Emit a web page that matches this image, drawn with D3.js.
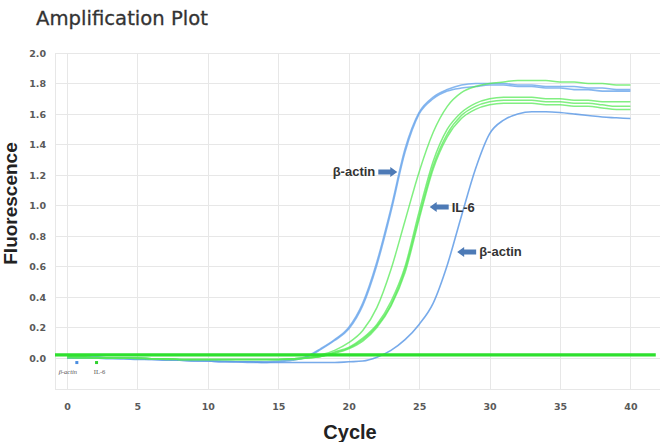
<!DOCTYPE html>
<html>
<head>
<meta charset="utf-8">
<style>
  body { margin: 0; background: #fff; }
</style>
</head>
<body>
<script src="https://cdn.jsdelivr.net/npm/d3@7"></script>

<div id="container1"></div>

<script>

// cycles 0..40
const cycles = d3.range(0, 41);

// early beta-actin replicates
const actinEarlyA = [0.01,0.01,0.01,0.0,0.0,0.0,-0.005,-0.01,-0.01,-0.015,-0.02,-0.02,-0.025,-0.025,-0.025,-0.02,-0.01,0.01,0.06,0.12,0.20,0.36,0.63,0.98,1.37,1.61,1.71,1.76,1.79,1.80,1.80,1.80,1.79,1.79,1.78,1.78,1.78,1.77,1.77,1.76,1.76];
const actinEarlyB = [0.0,0.0,0.0,0.0,-0.005,-0.005,-0.01,-0.01,-0.015,-0.02,-0.02,-0.025,-0.025,-0.03,-0.03,-0.025,-0.015,0.005,0.055,0.115,0.19,0.345,0.61,0.96,1.35,1.60,1.70,1.75,1.77,1.78,1.79,1.79,1.78,1.78,1.77,1.77,1.76,1.76,1.75,1.75,1.75];
// late beta-actin
const actinLate = [0.0,0.0,0.0,-0.005,-0.005,-0.01,-0.01,-0.015,-0.015,-0.02,-0.02,-0.025,-0.025,-0.025,-0.03,-0.03,-0.03,-0.03,-0.03,-0.03,-0.025,-0.02,0.005,0.05,0.12,0.22,0.36,0.61,0.93,1.24,1.47,1.56,1.60,1.615,1.615,1.61,1.60,1.59,1.58,1.575,1.57];
// IL-6 replicates
const il6A = [0.01,0.01,0.0,0.0,0.0,-0.005,-0.005,-0.01,-0.01,-0.01,-0.01,-0.01,-0.01,-0.01,-0.01,-0.01,-0.01,0.0,0.02,0.05,0.10,0.18,0.33,0.58,0.90,1.22,1.48,1.65,1.74,1.78,1.80,1.81,1.82,1.82,1.82,1.81,1.81,1.80,1.80,1.79,1.79];
const il6B = [0.01,0.01,0.0,0.0,0.0,0.0,-0.005,-0.005,-0.01,-0.01,-0.01,-0.01,-0.01,-0.01,-0.01,-0.01,-0.005,0.0,0.01,0.04,0.07,0.13,0.22,0.37,0.60,0.96,1.29,1.50,1.61,1.67,1.70,1.71,1.71,1.71,1.70,1.70,1.69,1.69,1.68,1.68,1.68];
const il6C = [0.01,0.0,0.0,0.0,0.0,0.0,-0.005,-0.005,-0.01,-0.01,-0.01,-0.01,-0.01,-0.01,-0.01,-0.01,-0.005,0.0,0.01,0.035,0.065,0.12,0.21,0.35,0.58,0.93,1.26,1.47,1.59,1.65,1.68,1.69,1.69,1.69,1.68,1.68,1.67,1.67,1.66,1.65,1.65];
const il6D = [0.0,0.0,0.0,0.0,0.0,0.0,-0.005,-0.005,-0.01,-0.01,-0.01,-0.01,-0.01,-0.01,-0.01,-0.01,-0.005,0.0,0.01,0.03,0.06,0.11,0.20,0.34,0.56,0.91,1.24,1.45,1.57,1.63,1.66,1.67,1.67,1.67,1.66,1.66,1.65,1.65,1.64,1.63,1.63];

const actinSeries = [actinEarlyA, actinEarlyB, actinLate];
const il6Series = [il6A, il6B, il6C, il6D];
const threshold = 0.02;

const xTicks = [0,5,10,15,20,25,30,35,40];
const yTicks = [0,0.2,0.4,0.6,0.8,1.0,1.2,1.4,1.6,1.8,2.0];

// small legend near the baseline
const legendNames = ["β-actin", "IL-6"];
const legendCycles = [0.7, 2.1];

// arrow annotations
const noteTexts = ["β-actin", "IL-6", "β-actin"];
const noteCycles = [23.45, 25.75, 27.7];
const noteValues = [1.22, 0.99, 0.695];
const noteDirs = ["right", "left", "left"];

const blue = "#72aaec", green = "#55ea55";

const width = 662, height = 442;
const svg = d3.select("#container1")
  .append("svg")
    .attr("width", width)
    .attr("height", height);

const x = d3.scaleLinear().domain([-0.85, 42.1]).range([55, 660]);
const y = d3.scaleLinear().domain([-0.21, 2.0]).range([390, 53]);

svg.append("defs").append("filter").attr("id", "soft")
  .append("feGaussianBlur").attr("stdDeviation", 0.45);

// grid
const grid = svg.append("g").attr("stroke", "#e7e7e7").attr("stroke-width", 1);
grid.selectAll(".vx").data(xTicks).join("line")
  .attr("x1", d => Math.round(x(d)) + 0.5).attr("x2", d => Math.round(x(d)) + 0.5)
  .attr("y1", y(2.0)).attr("y2", y(-0.21));
grid.selectAll(".hy").data(yTicks).join("line")
  .attr("x1", x(-0.85)).attr("x2", x(42.1))
  .attr("y1", d => Math.round(y(d)) + 0.5).attr("y2", d => Math.round(y(d)) + 0.5);
grid.append("line").attr("x1", x(-0.85) + 0.5).attr("x2", x(-0.85) + 0.5).attr("y1", y(2.0)).attr("y2", y(-0.21));
grid.append("line").attr("x1", x(-0.85)).attr("x2", x(42.1)).attr("y1", y(-0.21) - 0.5).attr("y2", y(-0.21) - 0.5);

// axes
const yAxis = svg.append("g")
    .attr("transform", `translate(${x(-0.85) - 6},0)`)
    .call(d3.axisLeft(y).tickValues(yTicks).tickFormat(d3.format(".1f")).tickSize(0));
const xAxis = svg.append("g")
    .attr("transform", `translate(0,${y(-0.21) + 10})`)
    .call(d3.axisBottom(x).tickValues(xTicks).tickFormat(d3.format("d")).tickSize(0));
[xAxis, yAxis].forEach(a => {
  a.select(".domain").remove();
  a.selectAll("text")
    .style("font-family", "DejaVu Sans")
    .style("font-weight", "bold")
    .style("font-size", "9.5px")
    .attr("fill", "#5a5a5a");
});

// curves
const line = d3.line()
    .x((d, i) => x(cycles[i]))
    .y(d => y(d))
    .curve(d3.curveMonotoneX);

const curves = svg.append("g").attr("fill", "none").attr("filter", "url(#soft)");
curves.selectAll(".actin").data(actinSeries).join("path")
    .attr("d", line)
    .attr("stroke", (d, i) => i === 2 ? "#5f9be6" : blue)
    .attr("stroke-width", 1.6)
    .attr("opacity", 0.85);
curves.selectAll(".il6").data(il6Series).join("path")
    .attr("d", line)
    .attr("stroke", green)
    .attr("stroke-width", 1.5)
    .attr("opacity", 0.75);

// threshold
curves.append("line")
    .attr("x1", x(-0.85)).attr("x2", x(41.8))
    .attr("y1", y(threshold)).attr("y2", y(threshold))
    .attr("stroke", "#2ee02e").attr("stroke-width", 3.2);

// tiny legend
svg.selectAll(".legmark").data(legendCycles).join("rect")
    .attr("x", d => x(d) - 1.5).attr("y", y(-0.03) - 1.5)
    .attr("width", 3).attr("height", 3)
    .attr("fill", (d, i) => i === 0 ? "#4a8de0" : "#2ed02e");
svg.selectAll(".legtext").data(legendNames).join("text")
    .attr("x", (d, i) => x(legendCycles[i]) + (i === 0 ? -9 : 3))
    .attr("y", y(-0.105))
    .attr("text-anchor", "middle")
    .style("font-family", "Liberation Serif")
    .style("font-style", (d, i) => i === 0 ? "italic" : "normal")
    .style("font-size", "6.5px")
    .attr("fill", "#555")
    .text(d => d);

// arrow annotations
function arrowPath(tx, ty, dir) {
  const len = 19, head = 7, bh = 2.5, hh = 5;
  const s = dir === "right" ? -1 : 1;
  const pts = [
    [tx, ty], [tx + s * head, ty - hh], [tx + s * head, ty - bh],
    [tx + s * len, ty - bh], [tx + s * len, ty + bh], [tx + s * head, ty + bh],
    [tx + s * head, ty + hh]
  ];
  return "M" + pts.map(p => p.join(",")).join("L") + "Z";
}
const notes = svg.append("g");
noteTexts.forEach((t, i) => {
  const tx = x(noteCycles[i]), ty = y(noteValues[i]);
  notes.append("path").attr("d", arrowPath(tx, ty, noteDirs[i])).attr("fill", "#4d7ab6");
  notes.append("text")
    .attr("x", noteDirs[i] === "right" ? tx - 22 : tx + 22)
    .attr("y", ty + 4.5)
    .attr("text-anchor", noteDirs[i] === "right" ? "end" : "start")
    .style("font-family", "Liberation Sans")
    .style("font-weight", "bold")
    .style("font-size", "13px")
    .attr("fill", "#333")
    .text(t);
});

// titles
svg.append("text").attr("x", 36).attr("y", 25)
    .attr("textLength", 172).attr("lengthAdjust", "spacingAndGlyphs")
    .style("font-family", "DejaVu Sans").style("font-size", "20px")
    .attr("fill", "#333")
    .attr("stroke", "#333").attr("stroke-width", 0.3)
    .text("Amplification Plot");
svg.append("text")
    .attr("transform", `translate(17,${(y(2.0) + y(-0.21)) / 2 - 18}) rotate(-90)`)
    .attr("text-anchor", "middle")
    .style("font-family", "Liberation Sans").style("font-weight", "bold").style("font-size", "19px")
    .attr("fill", "#222")
    .text("Fluorescence");
svg.append("text").attr("x", 350).attr("y", 439)
    .attr("text-anchor", "middle")
    .style("font-family", "Liberation Sans").style("font-weight", "bold").style("font-size", "20px")
    .attr("fill", "#222")
    .text("Cycle");

</script>
</body>
</html>
